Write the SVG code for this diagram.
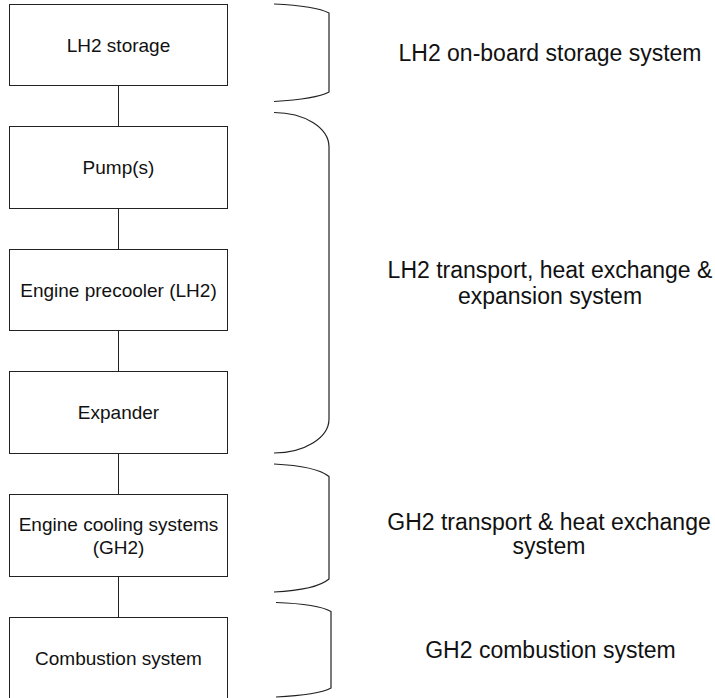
<svg xmlns="http://www.w3.org/2000/svg" width="715" height="698" viewBox="0 0 715 698">
<style>
.box{fill:#fff;stroke:#222;stroke-width:1}
.conn{stroke:#222;stroke-width:1;fill:none}
.brace{stroke:#222;stroke-width:1.2;fill:none}
.lbl{font-family:"Liberation Sans",Arial,sans-serif;font-size:19px;fill:#111;text-anchor:middle}
.grp{font-family:"Liberation Sans",Arial,sans-serif;font-size:23px;fill:#111;text-anchor:middle}
</style>
<rect width="715" height="698" fill="#fff"/>
<g id="connectors">
<line class="conn" x1="118.5" y1="85.5" x2="118.5" y2="126.5"/>
<line class="conn" x1="118.5" y1="208.5" x2="118.5" y2="249.5"/>
<line class="conn" x1="118.5" y1="330.5" x2="118.5" y2="371.5"/>
<line class="conn" x1="118.5" y1="453.5" x2="118.5" y2="494.5"/>
<line class="conn" x1="118.5" y1="576.5" x2="118.5" y2="617.5"/>
</g>
<g id="node-lh2-storage">
<rect class="box" x="9.5" y="4.5" width="218" height="81"/>
<text class="lbl" x="118.5" y="51.5">LH2 storage</text>
</g>
<g id="node-pumps">
<rect class="box" x="9.5" y="126.5" width="218" height="82"/>
<text class="lbl" x="118.5" y="174">Pump(s)</text>
</g>
<g id="node-precooler">
<rect class="box" x="9.5" y="249.5" width="218" height="81"/>
<text class="lbl" x="118.5" y="296.5">Engine precooler (LH2)</text>
</g>
<g id="node-expander">
<rect class="box" x="9.5" y="371.5" width="218" height="82"/>
<text class="lbl" x="118.5" y="418.5">Expander</text>
</g>
<g id="node-cooling">
<rect class="box" x="9.5" y="494.5" width="218" height="82"/>
<text class="lbl" x="118.5" y="530.5">Engine cooling systems</text>
<text class="lbl" x="118.5" y="554">(GH2)</text>
</g>
<g id="node-combustion">
<rect class="box" x="9.5" y="617.5" width="218" height="84"/>
<text class="lbl" x="118.5" y="665">Combustion system</text>
</g>
<g id="brace-storage">
<path class="brace" d="M274,4 Q316,6 329,13 L329,92 Q316,99 274,101.5"/>
<text class="grp" x="550" y="61">LH2 on-board storage system</text>
</g>
<g id="brace-transport">
<path class="brace" d="M274,112.5 A55,34.5 0 0 1 329,147 L329,419 A55,34 0 0 1 274,453"/>
<text class="grp" x="550" y="277.5">LH2 transport, heat exchange &amp;</text>
<text class="grp" x="550" y="304">expansion system</text>
</g>
<g id="brace-gh2-transport">
<path class="brace" d="M274,464 Q316,466 329,476.5 L329,579 Q316,590 274,592"/>
<text class="grp" x="549" y="529.5">GH2 transport &amp; heat exchange</text>
<text class="grp" x="549" y="553.5">system</text>
</g>
<g id="brace-combustion">
<path class="brace" d="M276,602.5 Q318,604 331,611.5 L331,688 Q318,695 276,697"/>
<text class="grp" x="550.5" y="658">GH2 combustion system</text>
</g>
</svg>
